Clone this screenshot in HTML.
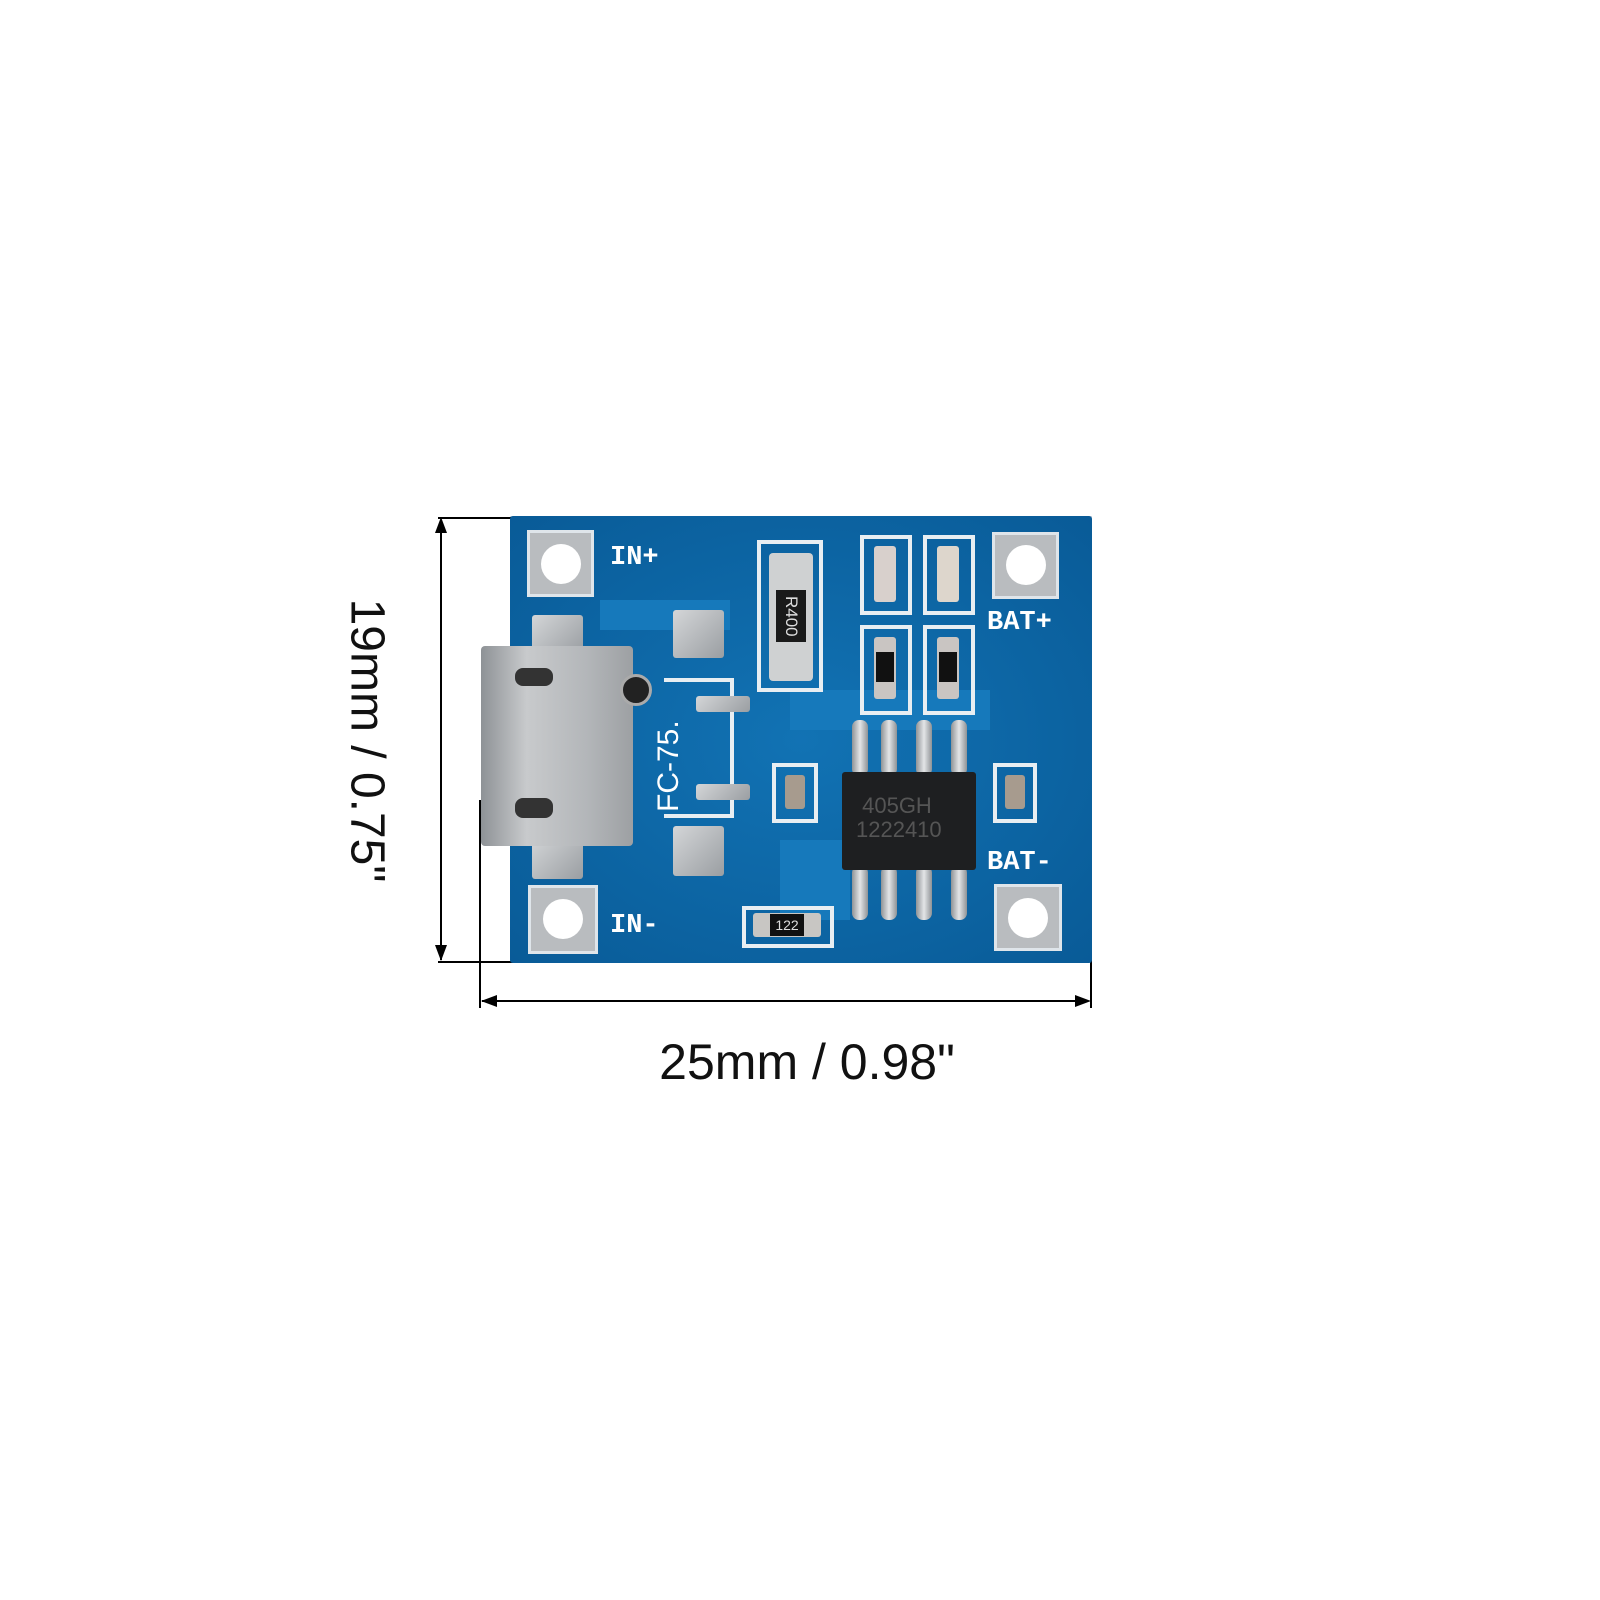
<!DOCTYPE html>
<html><head><meta charset="utf-8"><style>
body{margin:0;width:1600px;height:1600px;background:#fff;position:relative;overflow:hidden;font-family:"Liberation Sans",sans-serif}
.a{position:absolute}
.ln{position:absolute;background:#000}
.pad{position:absolute;background:#b9bcbf;border:3px solid #dfe5ea;box-sizing:border-box}
.hole{position:absolute;background:#fff;border-radius:50%}
.lbl{position:absolute;color:#fff;font-weight:bold;font-size:27px;font-family:"Liberation Mono",monospace}
.sv{position:absolute;background:linear-gradient(135deg,#d4d6d8,#9a9ea2);border-radius:3px}
.pin{position:absolute;width:16px;background:linear-gradient(90deg,#8f9396,#e3e5e7,#8f9396);border-radius:7px}
.out{position:absolute;border:4px solid #e8eef2;box-sizing:border-box}
</style></head><body>
<div class="ln" style="left:438px;top:517px;width:77px;height:2px"></div>
<div class="ln" style="left:438px;top:961px;width:77px;height:2px"></div>
<div class="ln" style="left:440px;top:520px;width:2px;height:440px"></div>
<svg class="a" style="left:430px;top:515px" width="22" height="450"><polygon points="11,2 5,18 17,18" fill="#000"/><polygon points="11,446 5,430 17,430" fill="#000"/></svg>
<div class="ln" style="left:479px;top:800px;width:2px;height:208px"></div>
<div class="ln" style="left:1090px;top:951px;width:2px;height:57px"></div>
<div class="ln" style="left:482px;top:1000px;width:606px;height:2px"></div>
<svg class="a" style="left:478px;top:990px" width="616" height="22"><polygon points="3,11 19,5 19,17" fill="#000"/><polygon points="613,11 597,5 597,17" fill="#000"/></svg>
<div class="a" style="left:582px;top:1033px;width:450px;text-align:center;font-size:50px;color:#111">25mm / 0.98"</div>
<div class="a" style="left:202px;top:713px;width:330px;text-align:center;font-size:48px;color:#111;transform:rotate(90deg)">19mm / 0.75"</div>

<div class="a" style="left:510px;top:516px;width:582px;height:447px;background:#0b6aa9;border-radius:3px"></div>
<div class="a" style="left:510px;top:516px;width:582px;height:447px;background:radial-gradient(ellipse at 50% 50%,rgba(30,130,200,.35),rgba(0,30,80,.2))"></div>
<div class="a" style="left:600px;top:600px;width:130px;height:30px;background:#1679bb"></div>
<div class="a" style="left:790px;top:690px;width:200px;height:40px;background:#1679bb"></div>
<div class="a" style="left:780px;top:840px;width:70px;height:80px;background:#1679bb"></div>

<div class="pad" style="left:527px;top:530px;width:67px;height:67px"></div><div class="hole" style="left:541px;top:544px;width:40px;height:40px"></div>
<div class="pad" style="left:992px;top:532px;width:67px;height:67px"></div><div class="hole" style="left:1006px;top:545px;width:40px;height:40px"></div>
<div class="pad" style="left:528px;top:885px;width:70px;height:69px"></div><div class="hole" style="left:543px;top:899px;width:40px;height:40px"></div>
<div class="pad" style="left:994px;top:884px;width:68px;height:67px"></div><div class="hole" style="left:1008px;top:898px;width:40px;height:40px"></div>
<div class="lbl" style="left:610px;top:543px">IN+</div>
<div class="lbl" style="left:987px;top:608px">BAT+</div>
<div class="lbl" style="left:987px;top:848px">BAT-</div>
<div class="lbl" style="left:610px;top:911px">IN-</div>

<div class="sv" style="left:532px;top:615px;width:51px;height:38px"></div>
<div class="sv" style="left:673px;top:610px;width:51px;height:48px"></div>
<div class="sv" style="left:673px;top:826px;width:51px;height:50px"></div>
<div class="sv" style="left:532px;top:836px;width:51px;height:43px"></div>
<div class="a" style="left:481px;top:646px;width:152px;height:200px;background:linear-gradient(90deg,#8e9296,#c8cacc 30%,#b3b6b9 70%,#9da0a3);border-radius:4px"></div>
<div class="a" style="left:515px;top:668px;width:38px;height:18px;background:#333;border-radius:8px"></div>
<div class="a" style="left:515px;top:798px;width:38px;height:20px;background:#333;border-radius:8px"></div>
<div class="a" style="left:620px;top:674px;width:26px;height:26px;background:#222;border-radius:50%;border:3px solid #aaa"></div>
<div class="out" style="left:664px;top:678px;width:70px;height:140px;border-left:none"></div>
<div class="sv" style="left:696px;top:696px;width:54px;height:16px"></div>
<div class="sv" style="left:696px;top:784px;width:54px;height:16px"></div>
<div class="a" style="left:652px;top:812px;color:#fff;font-size:30px;transform:rotate(-90deg);transform-origin:left top">FC-75.</div>

<div class="out" style="left:757px;top:540px;width:66px;height:152px"></div>
<div class="a" style="left:769px;top:553px;width:44px;height:128px;background:#cfd1d2;border-radius:4px"></div>
<div class="a" style="left:776px;top:590px;width:30px;height:52px;background:#1a1a1a;color:#ddd;font-size:17px;writing-mode:vertical-rl;text-align:center;line-height:30px">R400</div>

<div class="out" style="left:860px;top:535px;width:52px;height:80px"></div>
<div class="out" style="left:923px;top:535px;width:52px;height:80px"></div>
<div class="out" style="left:860px;top:625px;width:52px;height:90px"></div>
<div class="out" style="left:923px;top:625px;width:52px;height:90px"></div>
<div class="a" style="left:874px;top:546px;width:22px;height:56px;background:#d8d0cc;border-radius:3px"></div>
<div class="a" style="left:937px;top:546px;width:22px;height:56px;background:#ddd6cc;border-radius:3px"></div>
<div class="a" style="left:874px;top:637px;width:22px;height:62px;background:#c9c5c2;border-radius:3px"></div>
<div class="a" style="left:876px;top:652px;width:18px;height:30px;background:#111"></div>
<div class="a" style="left:937px;top:637px;width:22px;height:62px;background:#c9c5c2;border-radius:3px"></div>
<div class="a" style="left:939px;top:652px;width:18px;height:30px;background:#111"></div>

<div class="out" style="left:772px;top:763px;width:46px;height:60px"></div>
<div class="a" style="left:785px;top:775px;width:20px;height:34px;background:#a79b8e;border-radius:3px"></div>
<div class="out" style="left:993px;top:763px;width:44px;height:60px"></div>
<div class="a" style="left:1005px;top:775px;width:20px;height:34px;background:#a79b8e;border-radius:3px"></div>

<div class="pin" style="left:852px;top:720px;height:56px"></div>
<div class="pin" style="left:881px;top:720px;height:56px"></div>
<div class="pin" style="left:916px;top:720px;height:56px"></div>
<div class="pin" style="left:951px;top:720px;height:56px"></div>
<div class="pin" style="left:852px;top:866px;height:54px"></div>
<div class="pin" style="left:881px;top:866px;height:54px"></div>
<div class="pin" style="left:916px;top:866px;height:54px"></div>
<div class="pin" style="left:951px;top:866px;height:54px"></div>
<div class="a" style="left:842px;top:772px;width:134px;height:98px;background:#1e1f21;border-radius:3px"></div>
<div class="a" style="left:856px;top:794px;color:#555;font-size:22px;line-height:24px">&nbsp;405GH<br>1222410</div>

<div class="out" style="left:742px;top:906px;width:92px;height:42px"></div>
<div class="a" style="left:753px;top:913px;width:68px;height:24px;background:#c8c6c3;border-radius:3px"></div>
<div class="a" style="left:770px;top:914px;width:34px;height:22px;background:#111;color:#ddd;font-size:14px;text-align:center;line-height:22px">122</div>
</body></html>
